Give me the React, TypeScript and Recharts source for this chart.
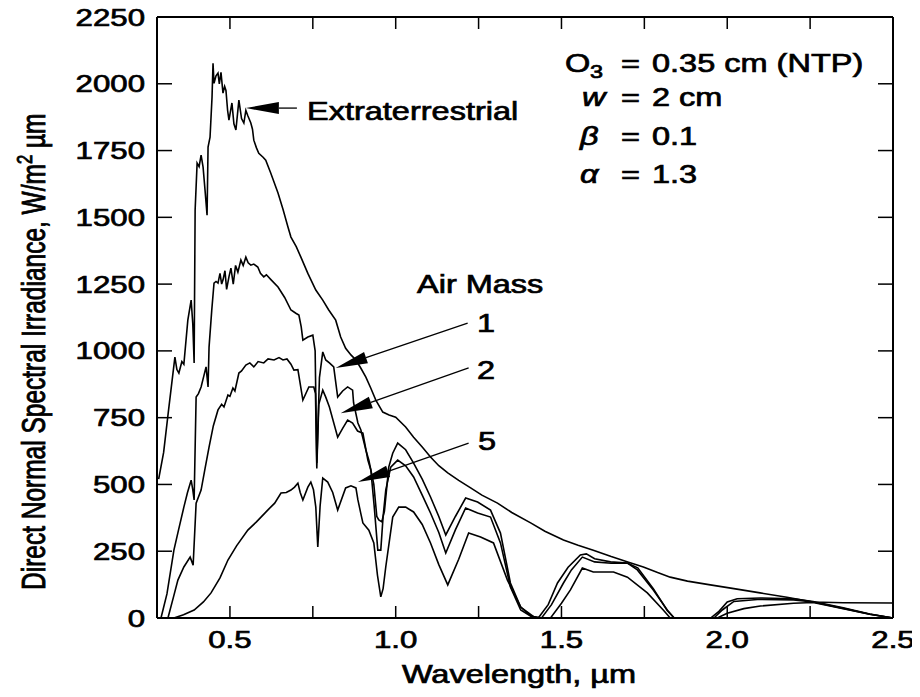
import React from 'react';
import { LineChart, Line, XAxis, YAxis, ReferenceLine } from 'recharts';

// wavelength (um) / direct normal irradiance (W/m2 um)
const etWl = [0.285, 0.3, 0.315, 0.334, 0.34, 0.346, 0.355, 0.361, 0.373, 0.383, 0.388, 0.392, 0.395, 0.401, 0.407, 0.413, 0.419, 0.425, 0.431, 0.434, 0.44, 0.446, 0.449, 0.452, 0.458, 0.464, 0.468, 0.473, 0.479, 0.484, 0.488, 0.493, 0.497, 0.506, 0.512, 0.518, 0.527, 0.535, 0.542, 0.548, 0.554, 0.563, 0.568, 0.572, 0.58, 0.587, 0.6, 0.608, 0.623, 0.645, 0.66, 0.675, 0.684, 0.7, 0.714, 0.735, 0.759, 0.78, 0.798, 0.819, 0.834, 0.849, 0.865, 0.88, 0.895, 0.91, 0.925, 0.94, 0.961, 0.98, 1.0, 1.03, 1.054, 1.08, 1.105, 1.13, 1.157, 1.19, 1.226, 1.26, 1.307, 1.35, 1.407, 1.45, 1.506, 1.55, 1.596, 1.65, 1.7, 1.747, 1.79, 1.828, 1.88, 1.949, 2.02, 2.099, 2.18, 2.259, 2.35, 2.5];
const etIrr = [520, 620, 780, 977, 930, 917, 960, 950, 1115, 1190, 1100, 955, 1527, 1703, 1690, 1733, 1688, 1600, 1508, 1763, 1800, 1950, 2077, 2002, 2030, 2040, 2000, 2043, 1965, 1990, 1975, 1900, 1864, 1928, 1850, 1827, 1939, 1870, 1853, 1900, 1880, 1853, 1830, 1789, 1760, 1740, 1725, 1714, 1666, 1591, 1530, 1464, 1426, 1390, 1351, 1290, 1228, 1190, 1153, 1115, 1052, 1010, 985, 966, 935, 902, 860, 816, 771, 760, 752, 715, 677, 640, 603, 570, 543, 515, 487, 460, 430, 395, 356, 325, 292, 272, 254, 230, 210, 191, 170, 153, 138, 124, 110, 94, 78, 60, 57, 56];

const am1Wl = [0.292, 0.31, 0.331, 0.345, 0.361, 0.372, 0.383, 0.388, 0.392, 0.398, 0.405, 0.413, 0.42, 0.428, 0.434, 0.437, 0.445, 0.452, 0.458, 0.464, 0.47, 0.475, 0.479, 0.485, 0.49, 0.497, 0.503, 0.51, 0.517, 0.524, 0.533, 0.54, 0.548, 0.555, 0.563, 0.572, 0.584, 0.592, 0.602, 0.61, 0.625, 0.645, 0.665, 0.684, 0.7, 0.708, 0.715, 0.72, 0.735, 0.75, 0.757, 0.762, 0.77, 0.78, 0.789, 0.8, 0.813, 0.825, 0.84, 0.855, 0.87, 0.873, 0.886, 0.895, 0.91, 0.919, 0.934, 0.943, 0.949, 0.958, 0.966, 0.979, 0.991, 1.006, 1.03, 1.054, 1.08, 1.105, 1.13, 1.151, 1.18, 1.211, 1.247, 1.286, 1.316, 1.346, 1.377, 1.407, 1.43, 1.46, 1.488, 1.52, 1.557, 1.575, 1.6, 1.648, 1.699, 1.729, 1.777, 1.819, 1.84, 1.95, 1.975, 2.0, 2.03, 2.1, 2.2, 2.259, 2.35, 2.43, 2.5];
const am1Irr = [0, 90, 254, 330, 415, 470, 516, 480, 442, 827, 840, 865, 900, 940, 865, 1014, 1150, 1254, 1260, 1254, 1290, 1250, 1265, 1300, 1230, 1277, 1310, 1250, 1320, 1295, 1340, 1320, 1351, 1330, 1321, 1325, 1314, 1290, 1277, 1285, 1265, 1239, 1200, 1153, 1140, 1134, 1090, 1040, 1052, 1059, 1000, 580, 900, 996, 966, 955, 940, 827, 850, 865, 853, 805, 730, 704, 629, 591, 500, 380, 367, 360, 400, 565, 617, 655, 630, 580, 520, 453, 380, 311, 380, 449, 434, 404, 318, 131, 41, 8, 0, 50, 131, 190, 236, 240, 222, 210, 206, 180, 105, 30, 0, 0, 25, 60, 72, 75, 72, 62, 38, 15, 0];

const am2Wl = [0.313, 0.33, 0.343, 0.361, 0.38, 0.389, 0.398, 0.413, 0.425, 0.437, 0.45, 0.464, 0.475, 0.482, 0.494, 0.5, 0.509, 0.515, 0.527, 0.535, 0.548, 0.56, 0.572, 0.585, 0.602, 0.615, 0.633, 0.648, 0.66, 0.672, 0.684, 0.693, 0.705, 0.72, 0.738, 0.753, 0.758, 0.762, 0.768, 0.78, 0.789, 0.8, 0.825, 0.84, 0.855, 0.87, 0.885, 0.901, 0.916, 0.925, 0.935, 0.946, 0.955, 0.962, 0.97, 0.985, 1.006, 1.03, 1.054, 1.08, 1.105, 1.13, 1.151, 1.18, 1.211, 1.247, 1.286, 1.316, 1.346, 1.377, 1.41, 1.44, 1.47, 1.506, 1.53, 1.563, 1.6, 1.65, 1.7, 1.73, 1.777, 1.819, 1.84, 1.96, 1.985, 2.02, 2.1, 2.2, 2.259, 2.35, 2.43, 2.5];
const am2Irr = [0, 80, 142, 191, 228, 198, 430, 479, 560, 640, 720, 779, 800, 790, 835, 830, 861, 850, 917, 925, 947, 955, 940, 960, 955, 970, 966, 975, 966, 970, 950, 928, 930, 816, 865, 865, 840, 560, 800, 853, 827, 790, 677, 710, 741, 730, 700, 692, 591, 554, 420, 254, 254, 380, 479, 565, 591, 570, 528, 460, 393, 320, 243, 330, 412, 393, 378, 281, 116, 30, 5, 0, 50, 131, 180, 228, 210, 205, 205, 188, 110, 28, 0, 0, 30, 62, 70, 68, 60, 36, 14, 0];

const am5Wl = [0.331, 0.36, 0.392, 0.42, 0.443, 0.47, 0.494, 0.52, 0.554, 0.58, 0.614, 0.635, 0.654, 0.67, 0.684, 0.695, 0.705, 0.712, 0.72, 0.735, 0.744, 0.752, 0.759, 0.765, 0.772, 0.78, 0.795, 0.81, 0.825, 0.849, 0.865, 0.88, 0.886, 0.895, 0.901, 0.919, 0.934, 0.945, 0.955, 0.962, 0.97, 0.991, 1.009, 1.03, 1.054, 1.08, 1.105, 1.13, 1.157, 1.19, 1.22, 1.256, 1.295, 1.337, 1.377, 1.416, 1.44, 1.467, 1.5, 1.527, 1.563, 1.596, 1.657, 1.699, 1.759, 1.807, 1.828, 1.97, 2.0, 2.05, 2.1, 2.2, 2.259, 2.35, 2.43, 2.5];
const am5Irr = [0, 12, 30, 60, 94, 150, 217, 270, 329, 360, 404, 430, 468, 470, 479, 490, 505, 470, 442, 490, 509, 480, 415, 266, 420, 524, 509, 470, 404, 487, 495, 487, 442, 390, 356, 329, 281, 160, 79, 110, 191, 378, 415, 415, 397, 350, 281, 200, 124, 220, 318, 303, 281, 142, 41, 5, 0, 0, 55, 105, 187, 172, 172, 153, 94, 30, 0, 0, 18, 35, 45, 55, 58, 35, 14, 0];

const xTicks = [0.5, 0.75, 1.0, 1.25, 1.5, 1.75, 2.0, 2.25, 2.5];
const xLabels = [0.5, 1.0, 1.5, 2.0, 2.5];
const yTicks = [0, 250, 500, 750, 1000, 1250, 1500, 1750, 2000, 2250];

const zip = (wl: number[], irr: number[]) => wl.map((x, i) => ({ x, y: irr[i] }));
const etData = zip(etWl, etIrr);
const am1Data = zip(am1Wl, am1Irr);
const am2Data = zip(am2Wl, am2Irr);
const am5Data = zip(am5Wl, am5Irr);

const X_MIN = 0.28;
const X_MAX = 2.5;
const Y_MAX = 2250;

// chart layout
const W = 920;
const H = 697;
const MARGIN = { top: 12, right: 17, bottom: 9, left: 7 };
const Y_AXIS_W = 150;
const R_AXIS_W = 10;
const TOP_AXIS_H = 5;
const X_AXIS_H = 70;
const PLOT_L = MARGIN.left + Y_AXIS_W;
const PLOT_R = W - MARGIN.right - R_AXIS_W;
const PLOT_T = MARGIN.top + TOP_AXIS_H;
const PLOT_B = H - MARGIN.bottom - X_AXIS_H;

const FONT = '"Liberation Sans", Arial, Helvetica, sans-serif';
const SX = 1.3; // the scan is stretched horizontally

function T({ x, y, size = 25, anchor = 'start', italic = false, children }: any) {
  return (
    <text
      transform={`translate(${x},${y}) scale(${SX},1)`}
      textAnchor={anchor}
      fontFamily={FONT}
      fontSize={size}
      fontStyle={italic ? 'italic' : 'normal'}
      fill="#000"
      stroke="#000"
      strokeWidth={0.7}
    >
      {children}
    </text>
  );
}

const XTick = (props: any) => {
  const { x, y, payload } = props;
  if (!xLabels.includes(payload.value)) return <g />;
  return <T x={x} y={y + 30} size={24} anchor="middle">{payload.value.toFixed(1)}</T>;
};

const YTick = (props: any) => {
  const { x, y, payload } = props;
  return <T x={x - 12} y={y + 8.5} size={24} anchor="end">{payload.value}</T>;
};

const NoTick = () => <g />;

const tickStroke = { stroke: '#000', strokeWidth: 1.5 };

// inward y stubs at both ends of a horizontal reference line
const yStubs = (len: number) => (props: any) => {
  const { x1, y1, x2 } = props;
  const l = Math.min(x1, x2);
  const r = Math.max(x1, x2);
  return (
    <g>
      <line x1={l} y1={y1} x2={l + len} y2={y1} {...tickStroke} />
      <line x1={r} y1={y1} x2={r - len} y2={y1} {...tickStroke} />
    </g>
  );
};

// arrow with filled head at the left end of the segment
const arrow = (len: number, half: number) => (props: any) => {
  const { x1, y1, x2, y2 } = props;
  const tip = x1 < x2 ? [x1, y1] : [x2, y2];
  const tail = x1 < x2 ? [x2, y2] : [x1, y1];
  const dx = tail[0] - tip[0];
  const dy = tail[1] - tip[1];
  const d = Math.sqrt(dx * dx + dy * dy) || 1;
  const ux = dx / d;
  const uy = dy / d;
  const bx = tip[0] + ux * len;
  const by = tip[1] + uy * len;
  const pts = `${tip[0]},${tip[1]} ${bx - uy * half},${by + ux * half} ${bx + uy * half},${by - ux * half}`;
  return (
    <g>
      <line x1={bx} y1={by} x2={tail[0]} y2={tail[1]} stroke="#000" strokeWidth={1.3} />
      <polygon points={pts} fill="#000" />
    </g>
  );
};

const axisLine = { stroke: '#000', strokeWidth: 2 };

const innerX = xTicks.filter((v) => v < X_MAX);
const innerY = yTicks.filter((v) => v > 0 && v < Y_MAX);
const xPx = (v: number) => PLOT_L + ((v - X_MIN) / (X_MAX - X_MIN)) * (PLOT_R - PLOT_L);

export default function App() {
  return (
    <div style={{ position: 'relative', width: W, height: H, margin: -8, background: '#fff' }}>
      <LineChart width={W} height={H} margin={MARGIN}>
        <XAxis
          dataKey="x"
          type="number"
          domain={[X_MIN, X_MAX]}
          allowDataOverflow
          ticks={xTicks}
          interval={0}
          height={X_AXIS_H}
          tickSize={0}
          tickMargin={0}
          tick={<XTick />}
          axisLine={axisLine}
          tickLine={false}
        />
        <XAxis
          xAxisId="t"
          orientation="top"
          type="number"
          domain={[X_MIN, X_MAX]}
          allowDataOverflow
          ticks={xTicks}
          height={TOP_AXIS_H}
          tick={<NoTick />}
          axisLine={axisLine}
          tickLine={false}
        />
        <YAxis
          type="number"
          domain={[0, Y_MAX]}
          ticks={yTicks}
          interval={0}
          width={Y_AXIS_W}
          tickSize={0}
          tickMargin={0}
          tick={<YTick />}
          axisLine={axisLine}
          tickLine={false}
        />
        <YAxis
          yAxisId="r"
          orientation="right"
          type="number"
          domain={[0, Y_MAX]}
          ticks={yTicks}
          width={R_AXIS_W}
          tick={<NoTick />}
          axisLine={axisLine}
          tickLine={false}
        />
        {innerY.map((v) => (
          <ReferenceLine key={`y${v}`} y={v} shape={yStubs(15)} />
        ))}
        <Line data={etData} dataKey="y" type="linear" stroke="#000" strokeWidth={1.6} dot={false} isAnimationActive={false} />
        <Line data={am1Data} dataKey="y" type="linear" stroke="#000" strokeWidth={1.6} dot={false} isAnimationActive={false} />
        <Line data={am2Data} dataKey="y" type="linear" stroke="#000" strokeWidth={1.6} dot={false} isAnimationActive={false} />
        <Line data={am5Data} dataKey="y" type="linear" stroke="#000" strokeWidth={1.6} dot={false} isAnimationActive={false} />
        <ReferenceLine segment={[{ x: 0.548, y: 1909 }, { x: 0.702, y: 1909 }]} shape={arrow(33, 6)} />
        <ReferenceLine segment={[{ x: 0.819, y: 936 }, { x: 1.217, y: 1104 }]} shape={arrow(32, 6)} />
        <ReferenceLine segment={[{ x: 0.834, y: 767 }, { x: 1.22, y: 936 }]} shape={arrow(32, 6)} />
        <ReferenceLine segment={[{ x: 0.886, y: 509 }, { x: 1.22, y: 655 }]} shape={arrow(32, 6)} />
      </LineChart>
      <svg width={W} height={H} style={{ position: 'absolute', left: 0, top: 0, pointerEvents: 'none' }}>
        {/* inward x tick marks on bottom and top frame */}
        {innerX.map((v) => (
          <rect key={`b${v}`} x={xPx(v) - 0.75} y={PLOT_B - 12} width={1.5} height={12} fill="#000" />
        ))}
        {innerX.map((v) => (
          <rect key={`t${v}`} x={xPx(v) - 0.75} y={PLOT_T} width={1.5} height={12} fill="#000" />
        ))}
        <text
          transform="translate(45,590) rotate(-90) scale(0.98,1.3)"
          textAnchor="start"
          fontFamily={FONT}
          fontSize={25}
          fill="#000"
          stroke="#000"
          strokeWidth={0.7}
        >
          Direct Normal Spectral Irradiance, W/m<tspan dy={-10} fontSize={17}>2</tspan><tspan dy={10}> µm</tspan>
        </text>
        <T x={519} y={683} anchor="middle">Wavelength, µm</T>
        <T x={307} y={120}>Extraterrestrial</T>
        <T x={565} y={72}>O</T>
        <T x={590} y={78} size={18}>3</T>
        <T x={621} y={72}>=</T>
        <T x={652} y={72}>0.35 cm (NTP)</T>
        <T x={582} y={106} italic>w</T>
        <T x={621} y={106}>=</T>
        <T x={652} y={106}>2 cm</T>
        <T x={580} y={145} italic>β</T>
        <T x={621} y={145}>=</T>
        <T x={652} y={145}>0.1</T>
        <T x={580} y={183} italic>α</T>
        <T x={621} y={183}>=</T>
        <T x={652} y={183}>1.3</T>
        <T x={417} y={293}>Air Mass</T>
        <T x={477} y={332}>1</T>
        <T x={477} y={379}>2</T>
        <T x={478} y={450}>5</T>
      </svg>
    </div>
  );
}
